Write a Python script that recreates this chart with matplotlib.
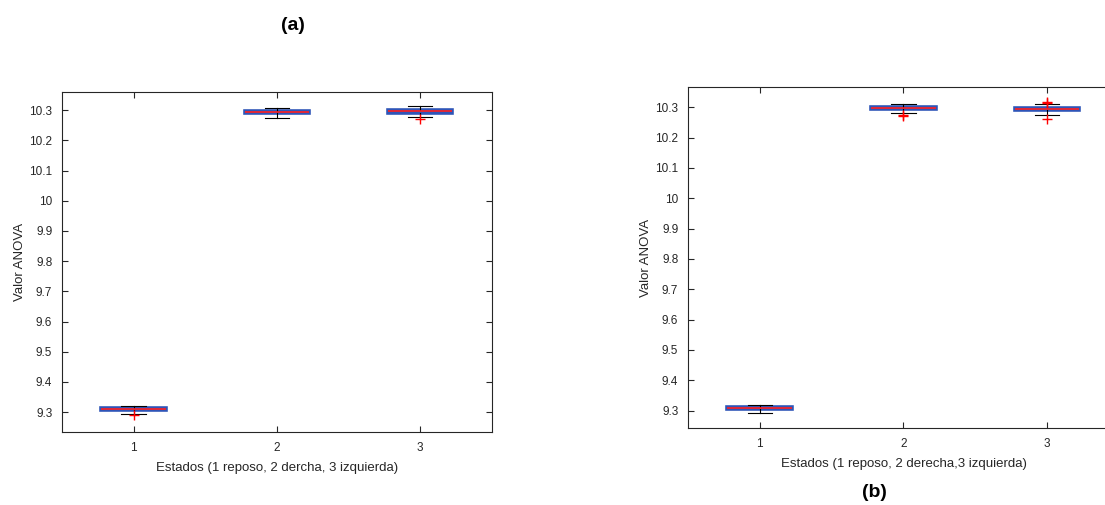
import matplotlib
matplotlib.use('Agg')
import matplotlib.pyplot as plt

plt.rcParams['font.family'] = ['Liberation Sans', 'DejaVu Sans']

# box statistics, states 1, 2, 3
states = [1, 2, 3]

# panel (a)
a_whislo = [9.295, 10.273, 10.277]
a_q1 = [9.306, 10.290, 10.292]
a_med = [9.309, 10.294, 10.297]
a_q3 = [9.313, 10.299, 10.302]
a_whishi = [9.320, 10.306, 10.313]
a_fliers = [[9.289], [], [10.270]]

# panel (b)
b_whislo = [9.292, 10.280, 10.273]
b_q1 = [9.305, 10.293, 10.289]
b_med = [9.308, 10.297, 10.293]
b_q3 = [9.312, 10.301, 10.297]
b_whishi = [9.320, 10.312, 10.310]
b_fliers = [[], [10.270, 10.273], [10.314, 10.317, 10.260]]

yticks = [9.3, 9.4, 9.5, 9.6, 9.7, 9.8, 9.9, 10, 10.1, 10.2, 10.3]
ytick_labels = ['9.3', '9.4', '9.5', '9.6', '9.7', '9.8', '9.9', '10', '10.1', '10.2', '10.3']


def make_stats(whislo, q1, med, q3, whishi, fliers):
    out = []
    for i in range(len(med)):
        out.append(dict(whislo=whislo[i], q1=q1[i], med=med[i], q3=q3[i],
                        whishi=whishi[i], fliers=fliers[i]))
    return out


def draw_panel(ax, stats, xlabel, ylim):
    ax.bxp(stats, positions=states, widths=0.45, patch_artist=True,
           boxprops=dict(facecolor='#b3c2ec', edgecolor='#2f55b8', linewidth=2.6),
           medianprops=dict(color='#ff2020', linewidth=1.2),
           whiskerprops=dict(color='black', linewidth=0.8, linestyle='-'),
           capprops=dict(color='black', linewidth=0.8),
           capwidths=0.17,
           flierprops=dict(marker='+', markeredgecolor='red', markersize=7,
                           linestyle='none'))
    ax.set_xlim(0.5, 3.5)
    ax.set_ylim(*ylim)
    ax.set_xticks(states)
    ax.set_xticklabels([str(s) for s in states])
    ax.set_yticks(yticks)
    ax.set_yticklabels(ytick_labels)
    ax.tick_params(direction='in', top=True, right=True, labelsize=8.5,
                   colors='#262626', length=4, width=0.8, pad=7)
    for sp in ax.spines.values():
        sp.set_color('#262626')
        sp.set_linewidth(0.8)
    ax.set_xlabel(xlabel, fontsize=9.5, color='#262626', labelpad=6)
    ax.set_ylabel('Valor ANOVA', fontsize=9.5, color='#262626', labelpad=2)


fig = plt.figure(figsize=(11.05, 5.05), dpi=100)

ax1 = fig.add_axes([0.0561, 0.1446, 0.389, 0.673])
draw_panel(ax1, make_stats(a_whislo, a_q1, a_med, a_q3, a_whishi, a_fliers),
           'Estados (1 reposo, 2 dercha, 3 izquierda)', (9.234, 10.36))

ax2 = fig.add_axes([0.6226, 0.1525, 0.39, 0.675])
draw_panel(ax2, make_stats(b_whislo, b_q1, b_med, b_q3, b_whishi, b_fliers),
           'Estados (1 reposo, 2 derecha,3 izquierda)', (9.243, 10.366))

fig.text(0.265, 0.95, '(a)', fontsize=14, fontweight='bold', ha='center', va='center')
fig.text(0.791, 0.024, '(b)', fontsize=14, fontweight='bold', ha='center', va='center')

fig.savefig('out.png', dpi=100)
